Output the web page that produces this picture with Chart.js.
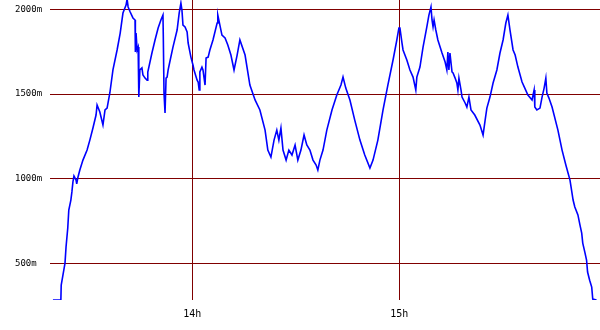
<!DOCTYPE html>
<html>
<head>
<meta charset="utf-8">
<script src="https://cdn.jsdelivr.net/npm/chart.js@4"></script>
<style>
  body { margin: 0; background: #fff; }
  #wrap { width: 600px; height: 330px; }
</style>
</head>
<body>
<div id="wrap"><canvas id="myChart" width="600" height="330"></canvas></div>
<script>
// time in minutes since midnight, altitude in metres
var times = [
  799.6, 801.9, 802.0, 802.5, 803.1, 803.4, 803.9, 804.2, 804.8, 805.1,
  805.4, 805.7, 806.3, 806.5, 806.8, 807.4, 808.3, 809.5, 810.3, 811.2,
  812.1, 812.4, 813.2, 814.1, 814.7, 815.3, 816.1, 817.0, 818.2, 819.1,
  819.9, 820.8, 821.1, 821.4, 822.0, 822.8, 823.4, 823.5, 823.7, 824.0,
  824.3, 824.5, 824.8, 825.4, 825.7, 826.3, 826.9, 827.1, 828.3, 829.2,
  830.1, 830.9, 831.5, 831.6, 831.8, 832.1, 832.4, 832.7, 833.0, 833.6,
  834.4, 835.6, 836.2, 836.7, 837.0, 837.3, 837.9, 838.5, 838.8, 839.6,
  840.2, 840.5, 841.4, 841.7, 842.0, 842.2, 842.8, 843.1, 843.7, 844.0,
  844.6, 845.1, 846.0, 847.2, 847.4, 848.6, 849.5, 850.3, 851.2, 852.1,
  853.0, 853.8, 855.3, 856.7, 858.2, 859.6, 861.1, 861.9, 862.8, 863.7,
  864.5, 865.1, 865.7, 866.3, 867.2, 868.0, 868.9, 869.8, 870.6, 871.5,
  872.4, 873.2, 874.1, 875.0, 875.9, 876.4, 877.0, 877.9, 879.0, 880.5,
  881.9, 883.1, 883.7, 884.5, 885.7, 887.1, 888.6, 890.0, 891.5, 892.4,
  893.8, 895.3, 896.7, 898.2, 899.3, 899.9, 900.2, 900.8, 901.1, 902.2,
  903.1, 904.0, 904.8, 905.1, 906.0, 906.9, 908.0, 908.6, 909.2, 909.5,
  909.8, 910.1, 910.6, 911.2, 912.4, 913.3, 913.8, 914.1, 914.4, 914.7,
  915.3, 915.6, 916.2, 916.7, 917.0, 917.3, 917.9, 918.2, 919.1, 919.6,
  920.2, 920.8, 921.9, 923.4, 924.3, 924.9, 925.4, 926.3, 927.2, 928.3,
  929.2, 930.1, 930.9, 931.5, 932.1, 933.0, 933.6, 934.4, 935.6, 936.4,
  937.3, 938.5, 939.1, 939.3, 939.9, 940.8, 941.4, 942.0, 942.5, 942.8,
  943.4, 944.3, 946.0, 947.2, 948.3, 949.5, 950.4, 950.9, 951.8, 952.4,
  952.9, 953.2, 953.8, 954.3, 954.6, 955.2, 955.8, 956.1, 957.2
];
var alts = [
  284, 284, 372, 431, 502, 597, 709, 815, 874, 922,
  981, 1016, 992, 969, 1004, 1051, 1110, 1169, 1228, 1299,
  1376, 1435, 1394, 1317, 1406, 1417, 1506, 1642, 1760, 1860,
  1978, 2025, 2060, 2014, 1984, 1949, 1937, 1748, 1860, 1760,
  1777, 1482, 1642, 1654, 1612, 1594, 1582, 1630, 1742, 1819,
  1890, 1937, 1966, 1836, 1506, 1388, 1594, 1600, 1642, 1701,
  1777, 1878, 1978, 2037, 1996, 1907, 1896, 1866, 1801, 1718,
  1671, 1642, 1582, 1571, 1524, 1630, 1659, 1642, 1553, 1713,
  1718, 1760, 1819, 1919, 1966, 1848, 1831, 1789, 1730, 1642,
  1730, 1819, 1730, 1553, 1465, 1406, 1287, 1169, 1128, 1228,
  1287, 1228, 1299, 1169, 1110, 1169, 1140, 1199, 1110, 1169,
  1258, 1199, 1169, 1110, 1081, 1051, 1110, 1169, 1287, 1406,
  1494, 1553, 1600, 1535, 1465, 1346, 1228, 1140, 1063, 1110,
  1228, 1406, 1553, 1701, 1819, 1890, 1890, 1801, 1760, 1701,
  1642, 1600, 1524, 1600, 1659, 1777, 1896, 1966, 2014, 1937,
  1896, 1937, 1878, 1819, 1742, 1689, 1642, 1748, 1642, 1742,
  1630, 1624, 1594, 1565, 1524, 1594, 1524, 1482, 1447, 1423,
  1482, 1406, 1376, 1317, 1258, 1346, 1417, 1482, 1565, 1642,
  1742, 1819, 1919, 1966, 1878, 1760, 1730, 1659, 1571, 1535,
  1494, 1465, 1524, 1423, 1406, 1417, 1482, 1535, 1594, 1506,
  1476, 1423, 1287, 1169, 1081, 992, 874, 833, 786, 726,
  679, 620, 567, 520, 449, 401, 360, 289, 284
];
var hourTicks = [840, 900];
var altTicks = [500, 1000, 1500, 2000];

var points = [];
for (var i = 0; i < times.length; i++) {
  points.push({ x: times[i], y: alts[i] });
}

var gridColor = '#800000';

new Chart(document.getElementById('myChart').getContext('2d'), {
  type: 'line',
  data: {
    datasets: [{
      data: points,
      borderColor: '#0000ff',
      borderWidth: 1.6,
      pointRadius: 0,
      tension: 0,
      fill: false
    }]
  },
  options: {
    responsive: false,
    animation: false,
    layout: { padding: { left: 15, right: 0, top: 0, bottom: 0 } },
    plugins: { legend: { display: false }, tooltip: { enabled: false } },
    scales: {
      x: {
        type: 'linear',
        min: 798.75,
        max: 958.2,
        afterBuildTicks: function (scale) {
          scale.ticks = hourTicks.map(function (v) { return { value: v }; });
        },
        afterFit: function (scale) {
          scale.height = 30;
          scale.paddingLeft = 0;
          scale.paddingRight = 0;
        },
        grid: { color: gridColor, lineWidth: 1, drawTicks: false },
        border: { display: false },
        ticks: {
          autoSkip: false,
          maxRotation: 0,
          padding: 8,
          color: '#000',
          font: { family: 'DejaVu Sans Mono', size: 10 },
          callback: function (v) { return (v / 60) + 'h'; }
        }
      },
      y: {
        min: 284,
        max: 2055,
        afterBuildTicks: function (scale) {
          scale.ticks = altTicks.map(function (v) { return { value: v }; });
        },
        afterFit: function (scale) {
          scale.width = 35;
          scale.paddingTop = 0;
          scale.paddingBottom = 0;
        },
        grid: { color: gridColor, lineWidth: 1, drawTicks: false },
        border: { display: false },
        ticks: {
          crossAlign: 'far',
          padding: 0,
          color: '#000',
          font: { family: 'DejaVu Sans Mono', size: 9 },
          callback: function (v) { return v + 'm'; }
        }
      }
    }
  }
});
</script>
</body>
</html>
